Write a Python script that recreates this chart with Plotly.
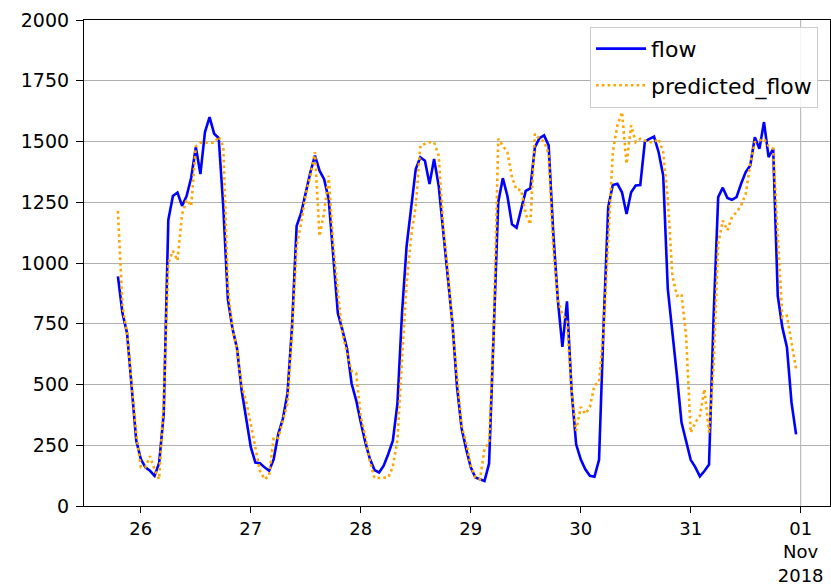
import pandas as pd
import plotly.graph_objects as go

start_time = "2018-10-25 19:00"

flow = [
    945, 793, 711, 503, 269, 193, 159, 145, 124, 177,
    380, 1177, 1276, 1290, 1235, 1276, 1352, 1477, 1366, 1539,
    1600, 1532, 1514, 1230, 850, 730, 648, 476, 352, 242,
    179, 176, 159, 145, 193, 297, 359, 462, 738, 1152,
    1207, 1290, 1373, 1442, 1380, 1345, 1263, 1028, 793, 724,
    648, 504, 435, 345, 262, 193, 148, 138, 166, 214,
    269, 421, 793, 1069, 1235, 1387, 1435, 1421, 1325, 1428,
    1318, 1138, 958, 752, 491, 320, 235, 159, 117, 110,
    103, 175, 680, 1250, 1349, 1276, 1159, 1145, 1221, 1297,
    1307, 1477, 1514, 1525, 1484, 1125, 849, 655, 842, 476,
    254, 192, 151, 124, 120, 190, 750, 1230, 1321, 1326,
    1291, 1202, 1291, 1319, 1321, 1500, 1511, 1520, 1456, 1360,
    893, 728, 536, 343, 270, 190, 160, 122, 144, 171,
    780, 1271, 1310, 1268, 1260, 1271, 1326, 1374, 1401, 1518,
    1470, 1580, 1436, 1470, 865, 735, 653, 426, 295,
]

predicted_flow = [
    1214, 821, 711, 504, 297, 160, 160, 205, 150, 110,
    430, 1000, 1050, 1010, 1200, 1260, 1235, 1480, 1495, 1495,
    1495, 1495, 1520, 1480, 900, 724, 648, 495, 430, 338,
    242, 145, 110, 124, 283, 280, 352, 421, 711, 1069,
    1166, 1283, 1359, 1456, 1110, 1207, 1359, 1070, 880, 711,
    629, 556, 547, 368, 285, 182, 115, 115, 115, 117,
    162, 270, 600, 915, 1111, 1235, 1483, 1490, 1497, 1497,
    1442, 1150, 970, 740, 520, 330, 260, 166, 117, 110,
    235, 262, 711, 1511, 1483, 1455, 1352, 1301, 1301, 1200,
    1159, 1532, 1510, 1500, 1450, 1069, 849, 787, 766, 476,
    310, 407, 379, 407, 497, 508, 728, 1099, 1456, 1566,
    1621, 1408, 1566, 1497, 1511, 1504, 1497, 1497, 1511, 1456,
    1264, 948, 865, 872, 700, 302, 343, 371, 481, 302,
    577, 1079, 1175, 1134, 1189, 1209, 1236, 1284, 1408, 1497,
    1504, 1511, 1481, 1470, 1113, 776, 783, 673, 563,
]

tick_dates = ["2018-10-26", "2018-10-27", "2018-10-28", "2018-10-29",
              "2018-10-30", "2018-10-31", "2018-11-01"]
tick_labels = ["26", "27", "28", "29", "30", "31", "01<br>Nov<br>2018"]
y_ticks = [0, 250, 500, 750, 1000, 1250, 1500, 1750, 2000]

times = pd.date_range(start_time, periods=len(flow), freq="h")
span = times[-1] - times[0]
x_range = [times[0] - span * 0.05, times[-1] + span * 0.05]

FONT = "DejaVu Sans"

fig = go.Figure()
fig.add_trace(go.Scatter(x=times, y=flow, mode="lines", name="flow", legendgroup="a",
                         line=dict(color="#0000ff", width=2.6)))
fig.add_trace(go.Scatter(x=times, y=predicted_flow, mode="lines", name="predicted_flow",
                         legendgroup="b",
                         line=dict(color="#ffa500", width=2.6, dash="2.6px,3.2px")))

fig.add_vline(x=tick_dates[-1], line=dict(color="#b0b0b0", width=1), layer="below")

fig.update_layout(
    width=831, height=587,
    margin=dict(l=84, r=1, t=20, b=81, autoexpand=False),
    paper_bgcolor="white", plot_bgcolor="white",
    font=dict(family=FONT, size=19, color="black"),
    showlegend=True,
    legend=dict(x=0.984, y=0.986, xanchor="right", yanchor="top",
                bgcolor="rgba(255,255,255,0.85)", bordercolor="#cccccc", borderwidth=1,
                font=dict(family=FONT, size=22), traceorder="grouped", tracegroupgap=5,
                itemwidth=50),
)
fig.update_xaxes(
    type="date", range=x_range, tickvals=tick_dates, ticktext=tick_labels,
    showgrid=False, zeroline=False, showline=True, linecolor="black", linewidth=1.2,
    mirror=True, ticks="outside", ticklen=6, tickwidth=1.2, tickcolor="black",
    automargin=False,
    tickfont=dict(family=FONT, size=18, color="black"), tickangle=0,
)
fig.update_yaxes(
    range=[0, 2000], tickvals=y_ticks,
    showgrid=True, gridcolor="#b0b0b0", gridwidth=1, zeroline=False,
    showline=True, linecolor="black", linewidth=1.2, mirror=True,
    ticks="outside", ticklen=7, tickwidth=1.2, tickcolor="black",
    ticklabelstandoff=3, automargin=False,
    tickfont=dict(family=FONT, size=19, color="black"),
)

fig.write_html("out.html")
